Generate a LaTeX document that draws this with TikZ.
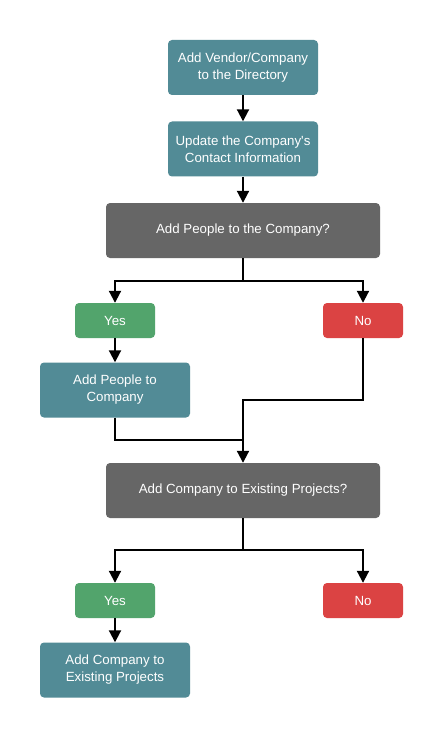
\documentclass[tikz,border=0pt]{standalone}
\usepackage{fontspec}
\setmainfont{Liberation Sans}
\usetikzlibrary{arrows.meta}
\definecolor{stepteal}{HTML}{528B96}
\definecolor{askgray}{HTML}{666666}
\definecolor{yesgreen}{HTML}{52A46C}
\definecolor{nored}{HTML}{DB4343}
\begin{document}
\begin{tikzpicture}[x=1pt,y=-1pt,
    box/.style={rounded corners=4pt,text=white,align=center,inner sep=2pt,
                font=\fontsize{13.3}{17}\selectfont},
    action/.style={box,fill=stepteal,minimum width=150pt,minimum height=55pt},
    question/.style={box,fill=askgray,minimum width=274pt,minimum height=55pt},
    yesbox/.style={box,fill=yesgreen,minimum width=80pt,minimum height=35pt},
    nobox/.style={box,fill=nored,minimum width=80pt,minimum height=35pt},
    link/.style={line width=2pt,-{Triangle[length=12pt,width=12pt]}},
    plain/.style={line width=2pt}]
  \useasboundingbox[fill=white] (0,0) rectangle (443,738);
  % Top chain
  \node[action] (vendor) at (243,67.5) {Add Vendor/Company\\to the Directory};
  \node[action] (contact) at (243,149) {Update the Company\textquotesingle s\\Contact Information};
  \node[question] (askpeople) at (243,230.5) {Add People to the Company?};
  % First decision
  \node[yesbox] (yesone) at (115,320.5) {Yes};
  \node[nobox] (noone) at (363,320.5) {No};
  \node[action] (people) at (115,390) {Add People to\\Company};
  % Second decision
  \node[question] (askproj) at (243,490.5) {Add Company to Existing Projects?};
  \node[yesbox] (yestwo) at (115,600.5) {Yes};
  \node[nobox] (notwo) at (363,600.5) {No};
  \node[action] (projects) at (115,670) {Add Company to\\Existing Projects};
  % Junction points
  \coordinate (splitone) at (243,281);
  \coordinate (bendno) at (243,400);
  \coordinate (joinyes) at (243,440);
  \coordinate (splittwo) at (243,550);
  % Connectors
  \draw[link] (vendor) -- (contact);
  \draw[link] (contact) -- (askpeople);
  \draw[plain] (askpeople.south) -- (splitone);
  \draw[link] (splitone) -| (yesone.north);
  \draw[link] (splitone) -| (noone.north);
  \draw[link] (yesone) -- (people);
  \draw[plain] (people.south) |- (joinyes);
  \draw[link] (noone.south) |- (bendno) -- (askproj.north);
  \draw[plain] (askproj.south) -- (splittwo);
  \draw[link] (splittwo) -| (yestwo.north);
  \draw[link] (splittwo) -| (notwo.north);
  \draw[link] (yestwo) -- (projects);
\end{tikzpicture}
\end{document}
